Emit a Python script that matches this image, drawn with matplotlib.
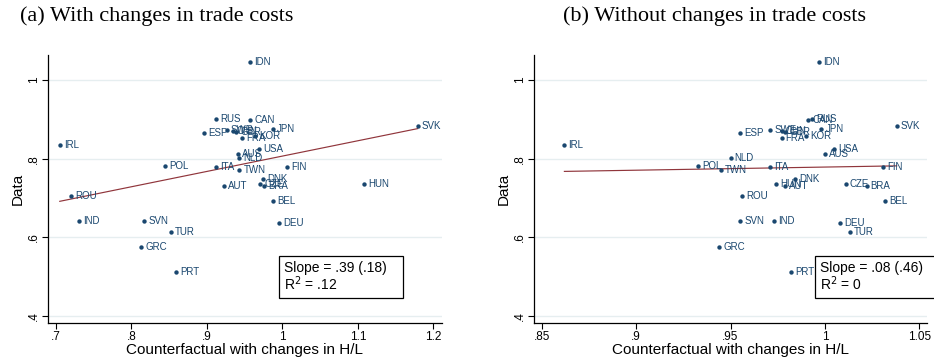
import numpy as np
import matplotlib
matplotlib.use("Agg")
import matplotlib.pyplot as plt

# Country codes and observed skill-premium data (shared by both panels)
countries = ["IRL", "ROU", "IND", "GRC", "SVN", "POL", "TUR", "PRT", "ESP", "RUS",
             "ITA", "AUT", "SWE", "CHN", "GBR", "AUS", "NLD", "TWN", "FRA", "IDN",
             "CAN", "KOR", "USA", "HUN", "CZE", "DNK", "BRA", "JPN", "BEL", "DEU",
             "FIN", "SVK"]
data = [0.836, 0.706, 0.643, 0.575, 0.641, 0.783, 0.613, 0.511, 0.865, 0.902,
        0.778, 0.730, 0.873, 0.870, 0.869, 0.812, 0.801, 0.771, 0.853, 1.047,
        0.899, 0.859, 0.826, 0.736, 0.736, 0.749, 0.731, 0.876, 0.693, 0.636,
        0.778, 0.883]

# Counterfactual H/L with changes in trade costs
cf_trade = [0.705, 0.720, 0.730, 0.813, 0.817, 0.844, 0.852, 0.859, 0.896, 0.912,
            0.912, 0.922, 0.926, 0.934, 0.939, 0.941, 0.943, 0.943, 0.947, 0.957,
            0.957, 0.964, 0.969, 1.108, 0.970, 0.974, 0.976, 0.987, 0.987, 0.995,
            1.006, 1.179]

# Counterfactual H/L without changes in trade costs
cf_notrade = [0.862, 0.956, 0.973, 0.944, 0.955, 0.933, 1.013, 0.982, 0.955, 0.993,
              0.971, 0.979, 0.971, 0.977, 0.979, 1.000, 0.950, 0.945, 0.977, 0.997,
              0.991, 0.990, 1.005, 0.974, 1.011, 0.984, 1.022, 0.998, 1.032, 1.008,
              1.031, 1.038]

titles = ["(a) With changes in trade costs", "(b) Without changes in trade costs"]
slopes = [0.39, 0.08]
slope_se = [".18", ".46"]
r2_text = [".12", "0"]
slope_text = [".39", ".08"]

xticks_a = [0.7, 0.8, 0.9, 1.0, 1.1, 1.2]
xticklabels_a = [".7", ".8", ".9", "1", "1.1", "1.2"]
xticks_b = [0.85, 0.9, 0.95, 1.0, 1.05]
xticklabels_b = [".85", ".9", ".95", "1", "1.05"]
yticks = [0.4, 0.6, 0.8, 1.0]
yticklabels = [".4", ".6", ".8", "1"]

NAVY = "#1a476f"
MAROON = "#90353b"
GRID = "#e6eef0"
SANS = "Liberation Sans"

W, H = 934, 364
fig = plt.figure(figsize=(W / 100, H / 100), dpi=100)


def px_axes(x0, y0, x1, y1):
    return fig.add_axes([x0 / W, 1 - y1 / H, (x1 - x0) / W, (y1 - y0) / H])


ax_a = px_axes(48.3, 55, 441.7, 323)
ax_b = px_axes(534, 55, 927.3, 323)

panels = [
    (ax_a, cf_trade, xticks_a, xticklabels_a, (0.6898, 1.2109), 0),
    (ax_b, cf_notrade, xticks_b, xticklabels_b, (0.8459, 1.0542), 1),
]

for ax, xs, xt, xtl, xlim, i in panels:
    x = np.array(xs)
    y = np.array(data)
    ax.set_xlim(*xlim)
    ax.set_ylim(0.3825, 1.064)
    for yv in yticks:
        ax.axhline(yv, color=GRID, lw=1.0, zorder=0)

    # fitted line with the reported slope through the sample means
    b = slopes[i]
    a = y.mean() - b * x.mean()
    xl = np.array([x.min(), x.max()])
    ax.plot(xl, a + b * xl, color=MAROON, lw=0.85, zorder=2)

    ax.scatter(x, y, s=10, color=NAVY, zorder=3, linewidths=0)
    for cx, cy, lab in zip(x, y, countries):
        ax.annotate(lab, (cx, cy), xytext=(3, 0), textcoords="offset points",
                    ha="left", va="center", fontsize=7, color=NAVY,
                    family=SANS, zorder=4)

    ax.set_xticks(xt)
    ax.set_xticklabels(xtl)
    ax.set_yticks(yticks)
    ax.set_yticklabels(yticklabels, rotation=90, va="center")
    for s in ["top", "right"]:
        ax.spines[s].set_visible(False)
    for s in ["left", "bottom"]:
        ax.spines[s].set_linewidth(0.9)
    ax.tick_params(axis="both", length=4, width=0.8, labelsize=8.5, pad=2)
    for lbl in ax.get_xticklabels() + ax.get_yticklabels():
        lbl.set_family(SANS)
    ax.set_xlabel("Counterfactual with changes in H/L", family=SANS,
                  fontsize=11, labelpad=0)
    ax.set_ylabel("Data", family=SANS, fontsize=11, labelpad=2)

    box = f"Slope = {slope_text[i]} ({slope_se[i]})   \nR$^2$ = {r2_text[i]}"
    bx = 0.586 if i == 0 else 0.716
    ax.text(bx + 0.012, 0.172, box, transform=ax.transAxes, fontsize=10,
            family=SANS, va="center", ha="left", linespacing=0.95,
            bbox=dict(boxstyle="square,pad=0.35", fc="white", ec="black", lw=0.9),
            zorder=5)

fig.text(20 / W, 1 - 16 / H, titles[0], family="Liberation Serif", fontsize=16,
         ha="left", va="center")
fig.text(563 / W, 1 - 16 / H, titles[1], family="Liberation Serif", fontsize=16,
         ha="left", va="center")

fig.savefig("out.png", dpi=100)
